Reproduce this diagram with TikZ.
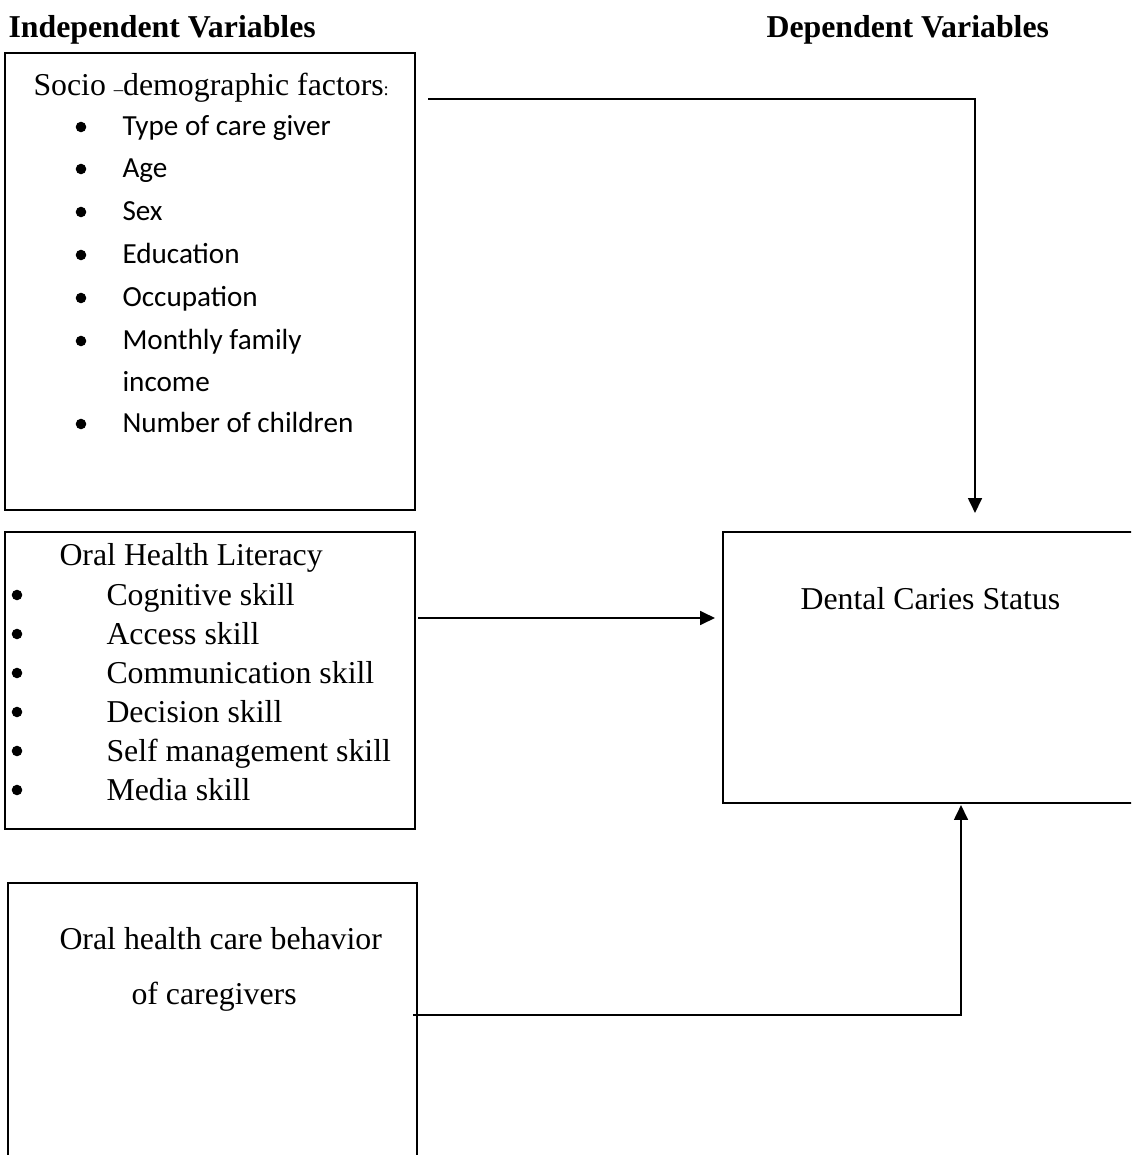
\documentclass[tikz,border=0pt]{standalone}
\usepackage{fontspec}
\setmainfont{Liberation Serif}
\newfontfamily\calibrifont{Carlito}
\usetikzlibrary{arrows.meta}
\begin{document}
\begin{tikzpicture}[
    x=0.01326cm, y=-0.01326cm,
    box/.style={draw, rectangle, line width=0.9pt, inner sep=0pt},
    txt/.style={inner sep=0pt, anchor=base west, font=\fontsize{12}{14}\selectfont},
    item/.style={inner sep=0pt, anchor=base west, font=\calibrifont\fontsize{11}{13}\selectfont},
    dot/.style={circle, fill, inner sep=0pt, minimum size=0.14cm},
    arrow/.style={-{Triangle[length=5.6pt,width=5.2pt]}, line width=0.75pt}
]
    \useasboundingbox (0,0) rectangle (1131,1155);
    \clip (0,0) rectangle (1131,1155);

    % Headings
    \node[txt, font=\fontsize{12}{14}\selectfont\bfseries] (indep) at (8,38) {Independent Variables};
    \node[txt, font=\fontsize{12}{14}\selectfont\bfseries] (dep) at (766,38) {Dependent Variables};

    % Socio-demographic factors
    \node[box, minimum width=5.437cm, minimum height=6.06cm] (socio) at (210,281.5) {};
    \node[txt] (sociotitle) at (33,96) {Socio {\scriptsize –}demographic factors{\scriptsize :}};
    \foreach \n/\y/\t in {1/127/Type of care giver, 2/169/Age, 3/212/Sex, 4/255/Education,
                          5/298/Occupation, 6/341/Monthly family, 8/424/Number of children} {
        \node[dot] (sdot\n) at (81,\y) {};
        \node[item] (sitem\n) at (122,\y+9) {\t};
    }
    \node[item] (sitem7) at (122,391) {income};

    % Oral health literacy
    \node[box, minimum width=5.437cm, minimum height=3.938cm] (ohl) at (210,680.5) {};
    \node[txt] (ohltitle) at (59,565) {Oral Health Literacy};
    \foreach \n/\y/\t in {1/595/Cognitive skill, 2/634/Access skill, 3/673/Communication skill,
                          4/712/Decision skill, 5/751/Self management skill, 6/790/Media skill} {
        \node[dot] (odot\n) at (17,\y) {};
        \node[txt] (oitem\n) at (106,\y+10) {\t};
    }

    % Oral health care behavior
    \node[box, minimum width=5.423cm, minimum height=4.203cm] (behav) at (212.5,1041.5) {};
    \node[txt] (behav1) at (59,949) {Oral health care behavior};
    \node[txt] (behav2) at (131,1004) {of caregivers};

    % Dental caries status
    \node[box, minimum width=5.795cm, minimum height=3.594cm] (caries) at (941.5,667.5) {};
    \node[txt] (cariestxt) at (800,609) {Dental Caries Status};

    % Arrows
    \coordinate (s1) at (428,99);
    \coordinate (t1) at (975,513);
    \coordinate (s2) at (418,618);
    \coordinate (t2) at (715,618);
    \coordinate (s3) at (413,1015);
    \coordinate (t3) at (961,805);
    \draw[arrow] (s1) -| (t1);
    \draw[arrow] (s2) -- (t2);
    \draw[arrow] (s3) -| (t3);

\end{tikzpicture}
\end{document}
